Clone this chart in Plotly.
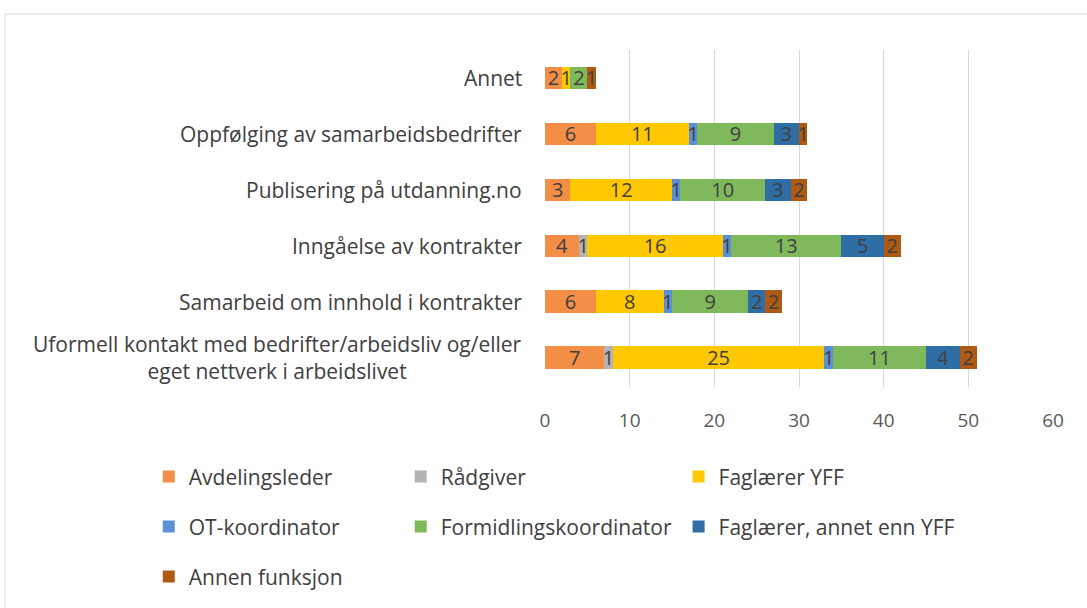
import plotly.graph_objects as go

categories = [
    "Uformell kontakt med bedrifter/arbeidsliv og/eller<br>eget nettverk i arbeidslivet",
    "Samarbeid om innhold i kontrakter",
    "Inngåelse av kontrakter",
    "Publisering på utdanning.no",
    "Oppfølging av samarbeidsbedrifter",
    "Annet",
]
cat_ids = ["c0", "c1", "c2", "c3", "c4", "c5"]

avdelingsleder = [7, 6, 4, 3, 6, 2]
raadgiver = [1, 0, 1, 0, 0, 0]
faglaerer_yff = [25, 8, 16, 12, 11, 1]
ot_koordinator = [1, 1, 1, 1, 1, 0]
formidlingskoordinator = [11, 9, 13, 10, 9, 2]
faglaerer_annet = [4, 2, 5, 3, 3, 0]
annen_funksjon = [2, 2, 2, 2, 1, 1]

series = [
    ("Avdelingsleder", avdelingsleder, "#F28E45"),
    ("Rådgiver", raadgiver, "#B4B4B4"),
    ("Faglærer YFF", faglaerer_yff, "#FFC800"),
    ("OT-koordinator", ot_koordinator, "#5B8FD6"),
    ("Formidlingskoordinator", formidlingskoordinator, "#80B85C"),
    ("Faglærer, annet enn YFF", faglaerer_annet, "#2E6EA4"),
    ("Annen funksjon", annen_funksjon, "#AE5A12"),
]

x_ticks = [0, 10, 20, 30, 40, 50, 60]

FONT = "Open Sans"
fig = go.Figure()
leg_names = ["legend"] + [f"legend{i}" for i in range(2, 8)]
for (name, vals, color), lg in zip(series, leg_names):
    fig.add_trace(go.Bar(
        name=name, y=cat_ids, x=vals, orientation="h",
        marker=dict(color=color, line=dict(width=0)),
        text=[str(v) if v else "" for v in vals],
        textposition="inside", insidetextanchor="middle", textangle=0,
        textfont=dict(family=FONT, size=20, color="#404040"),
        constraintext="none", cliponaxis=False,
        legend=lg,
    ))

for cid, label in zip(cat_ids, categories):
    fig.add_annotation(
        x=0, y=cid, xref="x", yref="y", text=label, showarrow=False,
        xanchor="right", xshift=-21, align="center",
        font=dict(family=FONT, size=21, color="#404040"),
    )

leg_common = dict(orientation="h",
                  font=dict(family=FONT, size=21, color="#404040"),
                  bgcolor="rgba(0,0,0,0)", xanchor="left", yanchor="middle")

col_x = [-0.78, -0.284, 0.263]
row_y = [-0.263, -0.411, -0.559]
legend_layout = {}
for i, lg in enumerate(leg_names):
    legend_layout[lg] = dict(x=col_x[i % 3], y=row_y[i // 3], **leg_common)

fig.update_layout(
    barmode="stack",
    bargap=0.6,
    width=1087, height=608,
    margin=dict(l=545, r=34, t=50, b=220),
    plot_bgcolor="white", paper_bgcolor="white",
    uniformtext=dict(minsize=20, mode="show"),
    showlegend=True,
    xaxis=dict(range=[0, 60], tickvals=x_ticks, showgrid=True, gridcolor="#D9D9D9",
               gridwidth=1, zeroline=False, showline=False, ticks="",
               tickfont=dict(family=FONT, size=19, color="#595959"),
               ticklabelstandoff=20),
    yaxis=dict(categoryorder="array", categoryarray=cat_ids, showticklabels=False,
               showgrid=False, zeroline=False, showline=False, ticks=""),
    shapes=[dict(type="rect", xref="paper", yref="paper",
                 x0=(5 - 545) / 508, x1=1.2, y0=-1.0, y1=(388 - 14) / 338,
                 line=dict(color="#D9D9D9", width=1), fillcolor="rgba(0,0,0,0)",
                 layer="below")],
    **legend_layout,
)

fig.write_html("out.html", config={"displayModeBar": False},
               post_script="document.body.style.margin='0px';")
